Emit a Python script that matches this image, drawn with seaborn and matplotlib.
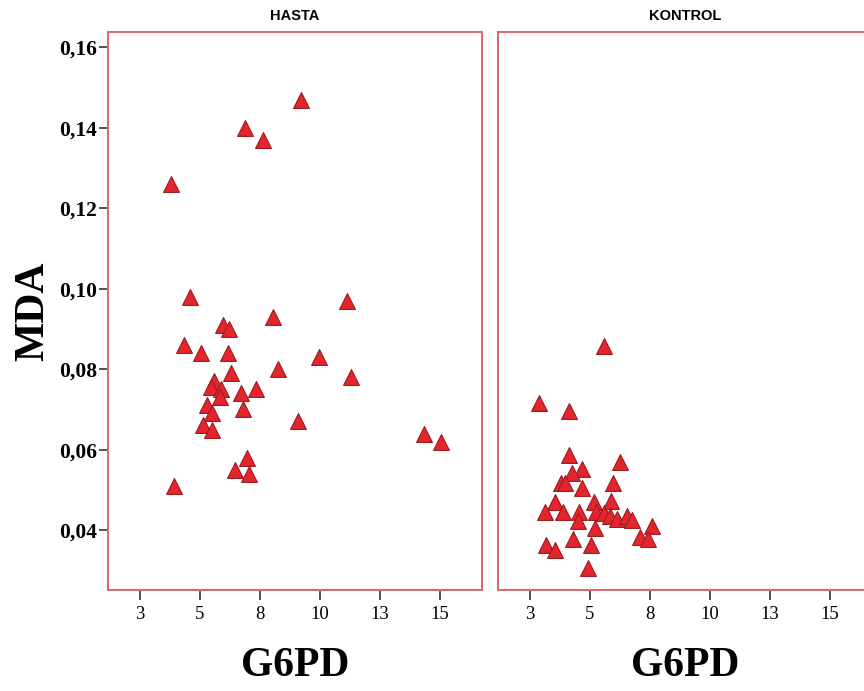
import matplotlib
matplotlib.use("Agg")
import matplotlib.pyplot as plt
import numpy as np
import pandas as pd
import seaborn as sns

# G6PD vs MDA, patient (HASTA) and control (KONTROL) groups
hasta_g6pd = [9.22, 6.88, 7.64, 3.81, 4.60, 11.11, 8.06, 5.94, 6.22, 4.33,
              5.03, 6.18, 9.97, 8.24, 6.28, 11.29, 5.60, 5.46, 5.87, 7.32,
              6.71, 5.83, 5.30, 5.49, 6.80, 9.08, 5.14, 5.49, 14.33, 15.06,
              6.94, 6.44, 7.04, 3.93]
hasta_mda = [0.147, 0.140, 0.137, 0.126, 0.098, 0.097, 0.093, 0.091, 0.090, 0.086,
             0.084, 0.084, 0.083, 0.080, 0.079, 0.078, 0.077, 0.0755, 0.075, 0.075,
             0.074, 0.073, 0.071, 0.069, 0.070, 0.067, 0.066, 0.065, 0.064, 0.062,
             0.058, 0.055, 0.054, 0.051]

kontrol_g6pd = [5.60, 2.88, 4.14, 4.14, 6.25, 4.68, 4.26, 3.78, 3.96, 5.94,
                4.65, 3.54, 5.18, 5.88, 3.13, 3.89, 4.54, 5.25, 5.58, 5.83,
                6.11, 6.53, 6.74, 4.51, 7.57, 5.21, 7.08, 7.43, 4.28, 3.17,
                3.54, 5.04, 4.93]
kontrol_mda = [0.0857, 0.0715, 0.0697, 0.0587, 0.0570, 0.0553, 0.0543, 0.0518, 0.0518, 0.0518,
               0.0505, 0.0470, 0.0470, 0.0472, 0.0444, 0.0444, 0.0444, 0.0444, 0.0443, 0.0435,
               0.0427, 0.0435, 0.0425, 0.0422, 0.0410, 0.0404, 0.0383, 0.0377, 0.0377, 0.0364,
               0.0350, 0.0364, 0.0306]

groups = ["HASTA", "KONTROL"]
x_ticks = [2.5, 5, 7.5, 10, 12.5, 15]
x_tick_labels = ["3", "5", "8", "10", "13", "15"]
y_ticks = [0.04, 0.06, 0.08, 0.10, 0.12, 0.14, 0.16]
y_tick_labels = ["0,04", "0,06", "0,08", "0,10", "0,12", "0,14", "0,16"]

df = pd.DataFrame({
    "G6PD": hasta_g6pd + kontrol_g6pd,
    "MDA": hasta_mda + kontrol_mda,
    "grup": ["HASTA"] * len(hasta_g6pd) + ["KONTROL"] * len(kontrol_g6pd),
})

sns.set_style("white")
plt.rcParams["font.family"] = ["Liberation Serif", "DejaVu Serif"]
plt.rcParams["text.color"] = "black"
plt.rcParams["axes.labelcolor"] = "black"
plt.rcParams["xtick.color"] = "black"
plt.rcParams["ytick.color"] = "black"

W, H = 864, 691
fig = plt.figure(figsize=(W / 100, H / 100), dpi=100)
fig.patch.set_facecolor("white")

frame_color = "#d9676c"
panel_left = [108, 498]
panel_w = 374
panel_top, panel_bottom = 31.7, 590

for i, grp in enumerate(groups):
    ax = fig.add_axes([panel_left[i] / W, (H - panel_bottom) / H,
                       panel_w / W, (panel_bottom - panel_top) / H])
    sub = df[df["grup"] == grp]
    sns.scatterplot(data=sub, x="G6PD", y="MDA", ax=ax, marker="^", s=130,
                    color="#e3262d", edgecolor="#9e1a1f", linewidth=0.8,
                    legend=False, zorder=3)
    ax.set_xlim(1.17, 16.75)
    ax.set_ylim(0.0251, 0.1639)
    for sp in ax.spines.values():
        sp.set_visible(True)
        sp.set_color(frame_color)
        sp.set_linewidth(1.4)

    ax.set_xticks(x_ticks)
    ax.set_xticklabels(x_tick_labels, fontsize=13.5, family=["Liberation Serif"],
                       color="black")
    ax.tick_params(axis="x", direction="out", length=7, width=1.1,
                   color="#222222", pad=4.5, bottom=True)
    if i == 0:
        ax.set_yticks(y_ticks)
        ax.set_yticklabels(y_tick_labels, fontsize=15.5, fontweight="bold",
                           family=["Liberation Serif"], color="black")
        ax.tick_params(axis="y", direction="out", length=6.5, width=1.1,
                       color="#222222", pad=1.5, left=True)
        ax.set_ylabel("MDA", fontsize=30, fontweight="bold",
                      family=["Liberation Serif"], labelpad=5, color="black")
    else:
        ax.set_yticks([])
        ax.set_ylabel("")
    ax.set_xlabel("G6PD", fontsize=30, fontweight="bold",
                  family=["Liberation Serif"], labelpad=17, color="black")
    ax.set_title(grp, fontsize=10.5, fontweight="bold",
                 family=["Liberation Sans"], pad=8.5, color="black")

fig.savefig("out.png", dpi=100, facecolor="white")
